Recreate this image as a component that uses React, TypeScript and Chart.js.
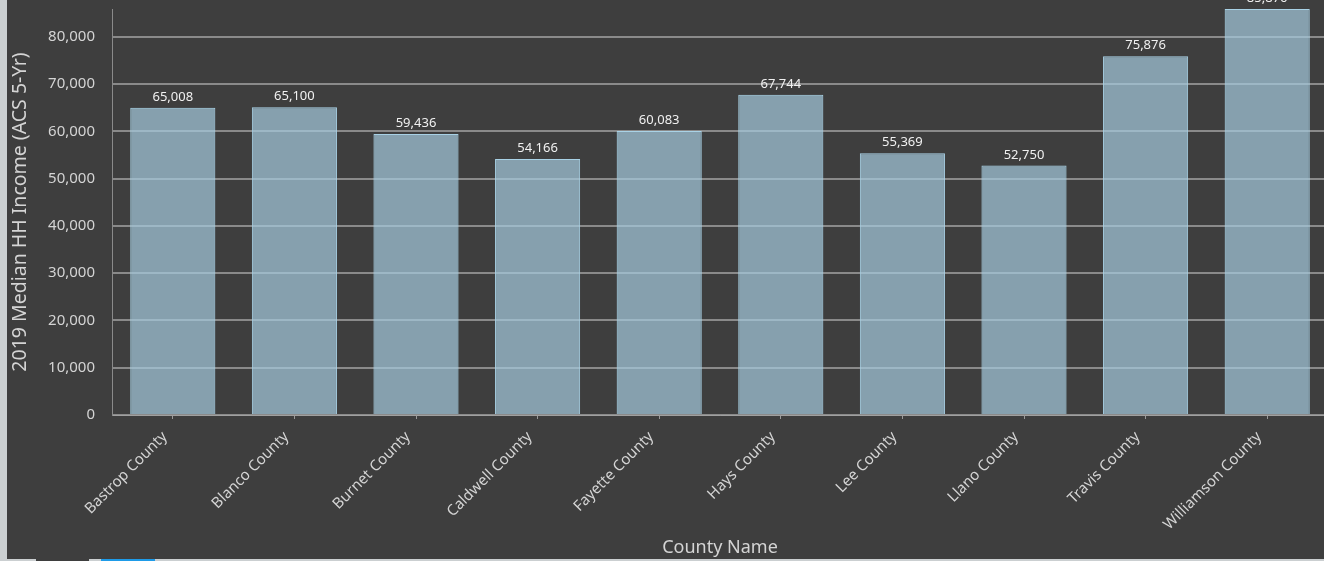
import React, { useEffect, useRef } from "react";
import { Chart, registerables } from "chart.js";

Chart.register(...registerables);

const counties = [
  "Bastrop County",
  "Blanco County",
  "Burnet County",
  "Caldwell County",
  "Fayette County",
  "Hays County",
  "Lee County",
  "Llano County",
  "Travis County",
  "Williamson County",
];
const incomes = [65008, 65100, 59436, 54166, 60083, 67744, 55369, 52750, 75876, 85876];
const yTickValues = [0, 10000, 20000, 30000, 40000, 50000, 60000, 70000, 80000];
const yTitle = "2019 Median HH Income (ACS 5-Yr)";
const xTitle = "County Name";

const FONT = "'Noto Sans', 'Open Sans', sans-serif";

const valueLabels = {
  id: "valueLabels",
  afterDatasetsDraw(chart: any) {
    const ctx = chart.ctx;
    const meta = chart.getDatasetMeta(0);
    ctx.save();
    ctx.font = `13px ${FONT}`;
    ctx.fillStyle = "#f0f0f0";
    ctx.textAlign = "center";
    ctx.textBaseline = "bottom";
    meta.data.forEach((bar: any, i: number) => {
      const v = chart.data.datasets[0].data[i] as number;
      ctx.fillText(v.toLocaleString("en-US"), bar.x, bar.y - 4);
    });
    ctx.restore();
  },
};

export default function App() {
  const ref = useRef<HTMLCanvasElement | null>(null);

  useEffect(() => {
    if (!ref.current) return;
    const chart = new Chart(ref.current, {
      type: "bar",
      data: {
        labels: counties,
        datasets: [
          {
            data: incomes,
            backgroundColor: "rgba(165,203,222,0.7)",
            borderColor: "#a9d2e6",
            borderWidth: 1,
            barPercentage: 0.7,
            categoryPercentage: 1,
          },
        ],
      },
      options: {
        animation: false,
        responsive: false,
        maintainAspectRatio: false,
        devicePixelRatio: 1,
        layout: { padding: { top: 29, right: 9, left: 0, bottom: 0 } },
        plugins: {
          legend: { display: false },
          tooltip: { enabled: false },
        },
        scales: {
          x: {
            grid: {
              display: true,
              offset: false,
              drawOnChartArea: false,
              drawTicks: true,
              tickLength: 4,
              color: "#9a9a9a",
            },
            border: { display: true, color: "#a0a0a0", width: 1 },
            ticks: {
              color: "#d4d4d4",
              font: { family: FONT, size: 15 },
              minRotation: 45,
              maxRotation: 45,
              autoSkip: false,
              padding: 9,
              labelOffset: -8,
            },
            title: {
              display: true,
              text: xTitle,
              color: "#d4d4d4",
              font: { family: FONT, size: 18 },
              padding: { top: 0, bottom: 0 },
            },
            afterFit(scale: any) {
              scale.height = 144;
            },
          },
          y: {
            min: 0,
            max: 85876,
            grid: {
              color: "#8a8a8a",
              lineWidth: 2,
              drawTicks: false,
            },
            border: { display: true, color: "#8a8a8a", width: 1 },
            ticks: {
              color: "#d4d4d4",
              font: { family: FONT, size: 15 },
              padding: 17,
              callback: (v: any) => Number(v).toLocaleString("en-US"),
            },
            afterBuildTicks(scale: any) {
              scale.ticks = yTickValues.map((v) => ({ value: v }));
            },
            title: {
              display: true,
              text: yTitle,
              color: "#d4d4d4",
              font: { family: FONT, size: 19.5 },
              padding: { top: 2, bottom: 0 },
            },
            afterFit(scale: any) {
              scale.width = 105;
            },
          },
        },
      },
      plugins: [valueLabels],
    });
    return () => chart.destroy();
  }, []);

  return (
    <div
      style={{
        position: "fixed",
        left: 0,
        top: 0,
        width: 1324,
        height: 561,
        overflow: "hidden",
        background: "#cbcfd1",
      }}
    >
      <div
        style={{
          position: "absolute",
          left: 7,
          top: 0,
          width: 1317,
          height: 559,
          background: "#3e3e3e",
          overflow: "hidden",
        }}
      >
        <canvas
          ref={ref}
          width={1330}
          height={579}
          style={{ position: "absolute", left: 0, top: -20, width: 1330, height: 579 }}
        />
      </div>
      <div style={{ position: "absolute", left: 36, top: 559, width: 53, height: 2, background: "#3e3e3e" }} />
      <div style={{ position: "absolute", left: 101, top: 559, width: 54, height: 2, background: "#1e9be8" }} />
    </div>
  );
}
